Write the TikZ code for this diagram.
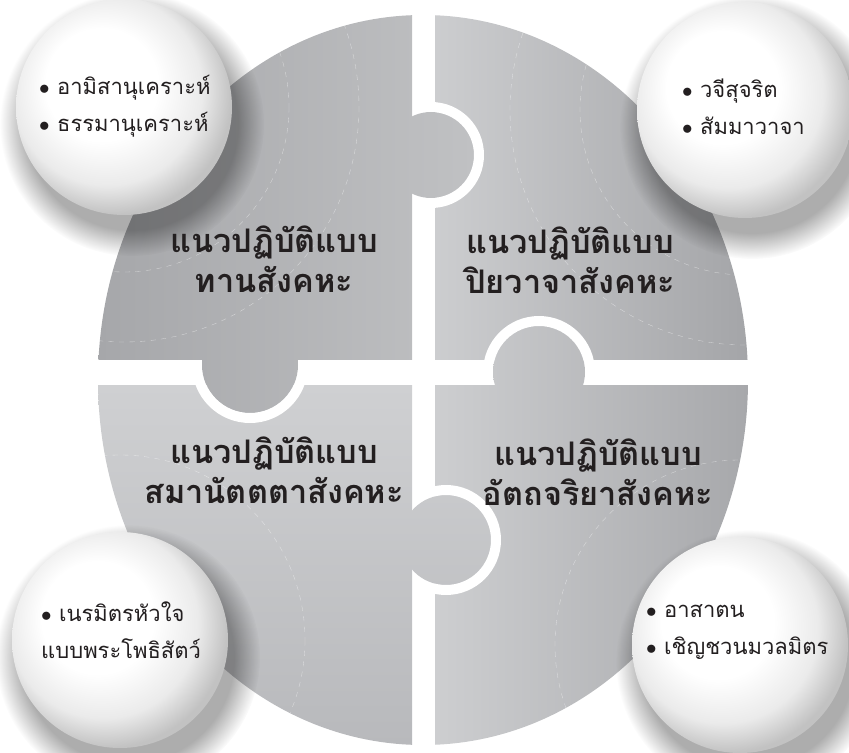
\documentclass[tikz,border=0pt]{standalone}
\usepackage{fontspec}
\usepackage{tikz}
\usetikzlibrary{fadings,positioning}
\newfontfamily\thaifont[Script=Thai]{Loma}
\definecolor{ink}{HTML}{231F20}
\pgfdeclareradialshading{ballwhite}{\pgfpoint{-7bp}{7bp}}{color(0bp)=(white); color(13bp)=(white); color(22bp)=(black!8); color(28bp)=(black!24); color(50bp)=(black!24)}
\tikzset{%
	tlshade/.style  = {left color={rgb,255:red,166;green,167;blue,170}, right color={rgb,255:red,192;green,193;blue,195}},
	trshade/.style  = {left color={rgb,255:red,210;green,211;blue,213}, right color={rgb,255:red,164;green,165;blue,168}},
	blshade/.style  = {top color={rgb,255:red,207;green,208;blue,210}, bottom color={rgb,255:red,184;green,185;blue,188}},
	brshade/.style  = {left color={rgb,255:red,205;green,206;blue,208}, right color={rgb,255:red,167;green,168;blue,171}},
	gap/.style      = {fill=white, even odd rule}, % socket ring
	deco/.style     = {white, opacity=.5, dashed, very thin},
	ball/.style     = {shading=ballwhite},
	halo/.style     = {fill=black, fill opacity=.32, path fading=circle with fuzzy edge 20 percent},
	title/.style    = {align=center, text=ink, font=\thaifont\bfseries\fontsize{18.5}{22.7}\selectfont},
	point/.style    = {align=left, anchor=west, text=ink, font=\thaifont\fontsize{12.5}{21}\selectfont},
}

\begin{document}
\begin{tikzpicture}[x=0.02cm,y=-0.02cm]
	\useasboundingbox (0,0) rectangle (849,753);

	\begin{scope}
		\clip (423,380) ellipse [x radius=325, y radius=365];
		% four pieces
		\begin{scope}\clip (0,0) rectangle (412,360); \shade[tlshade] (98,15) rectangle (474,413);\end{scope}
		\begin{scope}\clip (435,0) rectangle (849,360); \shade[trshade] (389,15) rectangle (748,360);\end{scope}
		\begin{scope}\clip (0,385) rectangle (412,753); \shade[blshade] (98,385) rectangle (491,745);\end{scope}
		\begin{scope}\clip (435,385) rectangle (849,753); \shade[brshade] (435,326) rectangle (748,745);\end{scope}
		% tabs
		\begin{scope}\clip (431,155) circle (43); \shade[tlshade] (98,15) rectangle (474,413);\end{scope}
		\begin{scope}\clip (250,365) circle (48); \shade[tlshade] (98,15) rectangle (474,413);\end{scope}
		\begin{scope}\clip (539,372) circle (46); \shade[brshade] (435,326) rectangle (748,745);\end{scope}
		\begin{scope}\clip (446,540) circle (45); \shade[blshade] (98,385) rectangle (491,745);\end{scope}
		% faint arcs
		\foreach \r in {165,235} {
			\draw[deco] (124,107) circle (\r);
			\draw[deco] (745,110) circle (\r);
		}
		\draw[deco] (120,640) circle (185);
		\draw[deco] (740,645) circle (185);
		% sockets
		\begin{scope}\clip (435,0) rectangle (849,360); \fill[gap] (431,155) circle (53) (431,155) circle (43);\end{scope}
		\begin{scope}\clip (0,385) rectangle (412,753); \fill[gap] (250,365) circle (58) (250,365) circle (48);\end{scope}
		\begin{scope}\clip (435,0) rectangle (849,360); \fill[gap] (539,372) circle (56) (539,372) circle (46);\end{scope}
		\begin{scope}\clip (435,385) rectangle (849,753); \fill[gap] (446,540) circle (55) (446,540) circle (45);\end{scope}
	\end{scope}

	% spheres
	\fill[halo] (132,124) circle (132);
	\fill[halo] (752,127) circle (132);
	\fill[halo] (128,657) circle (132);
	\fill[halo] (748,662) circle (132);
	\shade[ball] (124,107) circle (108);
	\shade[ball] (745,110) circle (108);
	\shade[ball] (120,640) circle (108);
	\shade[ball] (740,645) circle (108);

	\node[title] (T1) at (274,259) {แนวปฏิบัติแบบ\\ทานสังคหะ};
	\node[title] (T2) at (570,260) {แนวปฏิบัติแบบ\\ปิยวาจาสังคหะ};
	\node[title] (T3) at (274,470) {แนวปฏิบัติแบบ\\สมานัตตตาสังคหะ};
	\node[title] (T4) at (598,472) {แนวปฏิบัติแบบ\\อัตถจริยาสังคหะ};

	\node[point] (dana) at (33,106) {$\bullet$ อามิสานุเคราะห์\\$\bullet$ ธรรมานุเคราะห์};
	\node[point] (piya) at (676,107) {$\bullet$ วจีสุจริต\\$\bullet$ สัมมาวาจา};
	\node[point] (sama) at (35,630) {$\bullet$ เนรมิตรหัวใจ\\แบบพระโพธิสัตว์};
	\node[point] (attha) at (640,632) {$\bullet$ อาสาตน\\$\bullet$ เชิญชวนมวลมิตร};
\end{tikzpicture}
\end{document}
